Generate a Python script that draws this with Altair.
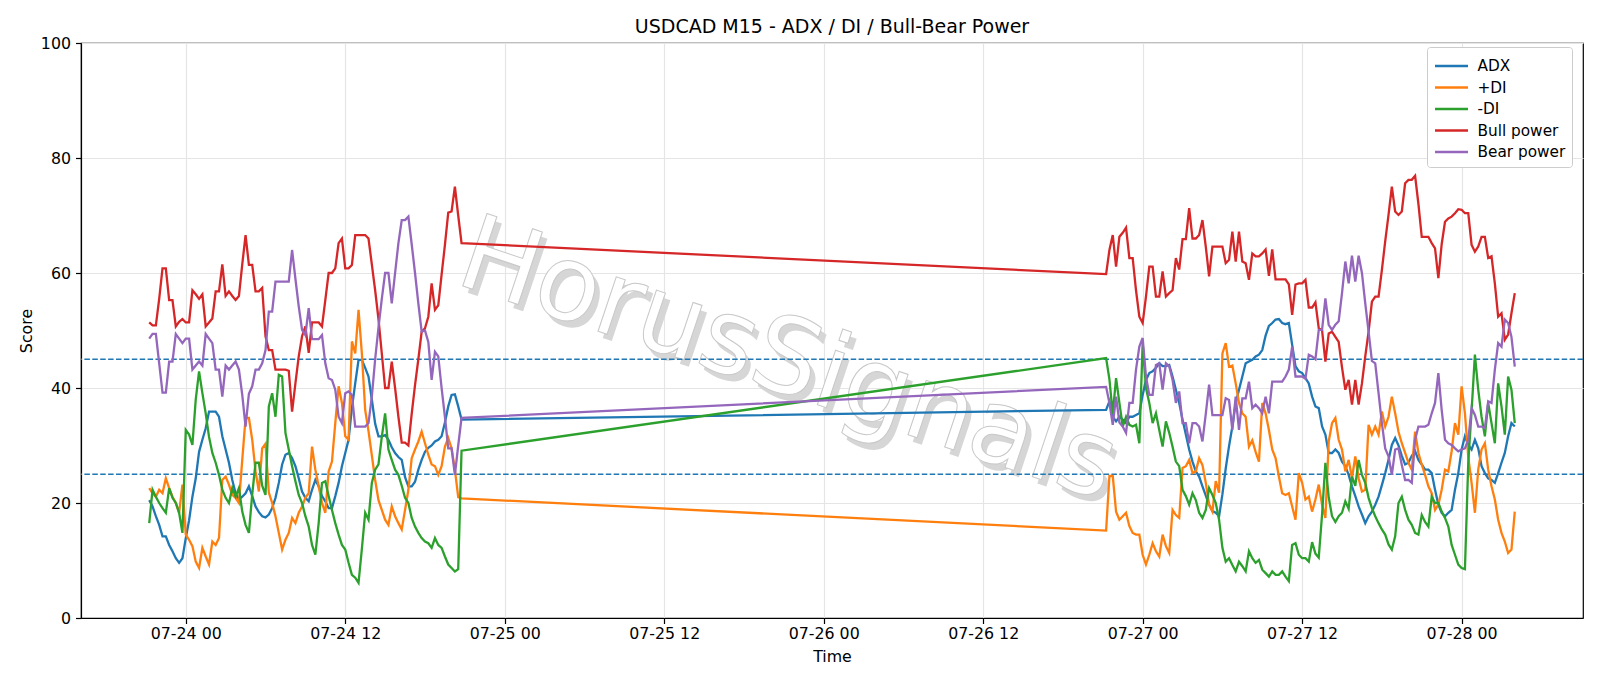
import altair as alt
import pandas as pd

series_names = ["ADX", "+DI", "-DI", "Bull power", "Bear power"]
series_colors = ["#1f77b4", "#ff7f0e", "#2ca02c", "#d62728", "#9467bd"]

seg1_start = "2025-07-23 21:15"
seg2_start = "2025-07-26 21:15"

adx_1 = [20.5, 19.4, 17.7, 16.2, 14.2, 14.2, 12.7, 11.6, 10.4, 9.6,
         10.4, 13.9, 17.0, 21.1, 24.3, 28.9, 31.0, 33.0, 35.9, 35.9,
         35.9, 35.0, 31.6, 29.3, 27.0, 24.0, 21.7, 20.6, 21.1, 21.7,
         22.9, 21.2, 19.4, 18.4, 17.7, 17.5, 18.0, 19.1, 20.9, 23.5,
         26.7, 28.4, 28.7, 27.8, 26.4, 24.3, 22.0, 20.9, 20.3, 22.3,
         24.0, 22.9, 21.2, 20.3, 19.1, 19.1, 21.2, 23.5, 26.4, 28.7,
         31.0, 36.5, 40.8, 44.9, 44.9, 43.5, 42.0, 38.0, 33.8, 31.6,
         31.6, 31.8, 31.0, 29.7, 28.7, 28.0, 27.5, 24.5, 22.9, 22.9,
         23.7, 25.8, 27.5, 28.9, 29.6, 30.0, 30.7, 31.0, 31.6, 34.0,
         36.8, 38.8, 38.9, 36.8, 34.5]
pdi_1 = [22.6, 21.7, 21.1, 22.3, 21.7, 24.3, 22.6, 21.1, 20.0, 18.3,
         23.2, 14.5, 13.6, 12.5, 9.8, 8.7, 12.2, 10.7, 9.3, 13.3,
         12.7, 13.9, 24.0, 24.6, 23.2, 21.4, 20.9, 20.0, 27.5, 34.8,
         34.8, 31.0, 25.5, 22.0, 29.5, 30.3, 21.8, 20.0, 17.7, 14.8,
         11.9, 13.6, 14.8, 17.4, 16.5, 18.3, 19.4, 20.9, 21.7, 29.8,
         25.8, 22.9, 20.0, 18.3, 25.5, 27.2, 33.9, 40.3, 37.4, 31.6,
         31.0, 48.1, 46.0, 53.6, 46.0, 36.2, 32.5, 28.3, 24.0, 20.5,
         18.8, 17.1, 16.2, 19.4, 17.7, 16.5, 15.4, 18.8, 22.3, 27.8,
         29.3, 30.7, 32.4, 30.4, 28.4, 26.7, 26.4, 24.9, 26.4, 29.8,
         31.3, 29.5, 25.8, 21.0, 20.8]
mdi_1 = [16.5, 22.3, 21.1, 20.0, 19.1, 18.3, 22.6, 20.9, 20.0, 18.3,
         14.8, 32.7, 31.9, 30.1, 38.0, 42.9, 39.1, 35.6, 31.5, 28.7,
         27.0, 24.9, 22.3, 20.9, 20.0, 22.6, 21.1, 22.6, 18.5, 16.2,
         14.8, 21.5, 27.0, 27.0, 23.0, 21.4, 36.8, 39.1, 35.0, 42.3,
         42.0, 32.2, 29.3, 26.4, 23.8, 21.4, 20.0, 17.7, 15.9, 12.7,
         11.0, 16.5, 23.5, 23.8, 21.2, 18.8, 16.5, 14.5, 12.7, 11.9,
         9.6, 7.5, 7.0, 6.1, 12.0, 18.3, 17.1, 23.5, 25.8, 26.7,
         31.5, 35.6, 29.3, 27.5, 25.8, 24.9, 23.0, 20.9, 20.0, 17.4,
         15.9, 14.8, 13.9, 13.3, 13.0, 12.2, 13.9, 12.7, 12.2, 10.7,
         9.3, 8.7, 8.1, 8.5, 29.1]
bull_1 = [51.4, 50.9, 50.9, 55.5, 60.8, 60.8, 55.3, 55.3, 50.7, 51.5,
          52.0, 51.4, 51.4, 57.0, 56.3, 55.5, 56.3, 50.7, 51.4, 52.1,
          56.8, 56.8, 61.5, 56.0, 56.8, 56.0, 55.3, 56.0, 61.5, 66.6,
          61.4, 61.4, 56.8, 56.8, 57.4, 49.0, 46.6, 46.6, 43.2, 43.2,
          43.2, 43.2, 43.0, 35.9, 40.8, 45.5, 49.0, 50.7, 46.1, 51.4,
          51.4, 51.4, 50.7, 55.3, 60.0, 60.0, 60.8, 65.2, 66.0, 60.8,
          60.8, 61.4, 66.6, 66.6, 66.6, 66.6, 66.0, 61.5, 57.0, 52.0,
          46.0, 40.0, 40.0, 44.6, 40.0, 35.0, 30.5, 30.5, 30.0, 35.5,
          40.5, 45.0, 49.8, 50.4, 52.4, 58.2, 53.6, 54.4, 59.7, 64.9,
          70.5, 70.7, 75.0, 70.0, 65.2]
bear_1 = [48.6, 49.4, 49.4, 44.3, 39.2, 39.2, 44.6, 44.6, 49.4, 48.6,
          47.8, 48.6, 48.6, 43.2, 43.9, 44.6, 43.9, 49.4, 48.6, 47.8,
          43.2, 43.2, 38.5, 43.9, 43.2, 43.9, 44.6, 43.2, 38.8, 33.3,
          39.0, 40.3, 43.2, 43.2, 44.3, 46.6, 53.3, 53.3, 58.5, 58.5,
          58.5, 58.5, 58.5, 64.0, 59.0, 54.2, 50.1, 49.2, 53.9, 48.5,
          48.5, 48.5, 49.2, 44.3, 41.7, 41.4, 39.7, 35.0, 33.9, 39.1,
          39.4, 38.8, 33.3, 33.3, 33.3, 33.3, 33.9, 38.5, 45.0, 50.5,
          55.5, 60.0, 60.0, 54.7, 60.0, 65.2, 69.2, 69.2, 69.8, 65.0,
          60.0, 54.7, 49.8, 50.0, 48.0, 41.4, 46.3, 45.5, 40.0, 35.0,
          29.5, 29.5, 24.9, 30.0, 34.8]

adx_2 = [36.2, 37.7, 35.0, 34.2, 35.0, 34.5, 33.9, 35.0, 35.0, 35.3,
         35.6, 38.8, 41.4, 42.6, 42.9, 43.5, 44.3, 43.8, 43.8, 44.0,
         42.0, 39.7, 37.4, 34.5, 31.9, 29.3, 27.2, 25.5, 24.6, 22.9,
         21.3, 19.7, 18.6, 18.3, 17.7, 21.5, 26.0, 29.9, 33.3, 37.4,
         39.7, 42.0, 44.3, 44.6, 44.9, 45.5, 45.8, 46.6, 49.1, 50.8,
         51.3, 51.9, 52.0, 51.3, 51.1, 51.3, 47.5, 43.8, 42.9, 42.6,
         41.7, 40.8, 38.5, 36.8, 36.5, 33.3, 31.9, 28.7, 28.7, 29.3,
         28.7, 27.2, 26.4, 24.9, 22.9, 21.2, 19.4, 18.0, 16.5, 17.7,
         18.5, 19.7, 21.1, 23.1, 25.2, 27.5, 30.1, 31.3, 30.0, 28.2,
         26.7, 27.0, 28.2, 29.0, 27.5, 26.7, 25.8, 25.8, 25.2, 22.3,
         19.7, 18.3, 17.7, 18.3, 18.8, 22.3, 25.2, 29.3, 31.6, 30.1,
         29.3, 31.0, 29.5, 26.4, 25.2, 24.3, 24.0, 23.5, 25.2, 27.0,
         28.7, 31.6, 33.9, 33.3]
pdi_2 = [15.2, 24.7, 24.7, 18.5, 17.1, 17.7, 18.3, 16.0, 14.8, 14.5,
         14.5, 11.0, 9.3, 11.0, 13.0, 11.6, 10.7, 14.5, 12.5, 11.3,
         18.8, 17.9, 17.4, 26.1, 26.4, 27.5, 25.2, 25.5, 27.8, 26.6,
         23.5, 19.7, 18.5, 23.8, 21.8, 46.0, 47.8, 43.7, 43.9, 40.8,
         37.4, 35.6, 35.0, 29.8, 30.9, 28.9, 27.2, 37.4, 35.6, 32.7,
         29.3, 27.8, 24.6, 21.7, 21.4, 21.7, 19.4, 17.1, 25.2, 23.5,
         20.6, 21.1, 18.5, 20.6, 23.2, 19.7, 17.4, 30.7, 33.9, 34.8,
         31.0, 29.3, 25.5, 27.5, 24.3, 28.1, 24.3, 22.0, 22.3, 33.6,
         31.9, 33.3, 31.9, 35.9, 33.3, 35.0, 38.5, 35.6, 32.4, 30.4,
         28.7, 27.0, 25.8, 32.4, 28.7, 26.7, 24.9, 22.9, 21.7, 18.8,
         19.7, 22.3, 25.8, 25.5, 29.0, 33.9, 31.9, 40.3, 35.6, 28.0,
         23.5, 18.3, 25.8, 29.3, 30.4, 25.8, 22.9, 20.6, 17.1, 14.8,
         13.3, 11.3, 11.9, 18.5]
mdi_2 = [45.2, 41.5, 35.5, 41.7, 37.4, 33.3, 35.0, 33.6, 33.3, 33.6,
         30.4, 47.8, 40.0, 37.4, 33.9, 35.6, 32.7, 29.8, 34.2, 32.2,
         29.8, 27.2, 26.4, 22.3, 21.2, 19.7, 21.7, 20.5, 18.3, 17.4,
         18.8, 22.6, 21.4, 20.0, 17.1, 12.2, 9.8, 10.4, 9.2, 8.1,
         9.8, 9.0, 8.1, 11.6, 10.4, 9.6, 10.1, 8.4, 7.8, 7.2,
         8.1, 7.5, 7.5, 8.1, 7.2, 6.4, 12.7, 13.0, 11.0, 10.4,
         10.4, 9.8, 13.2, 11.2, 10.5, 18.0, 27.0, 21.0, 17.7, 16.7,
         17.7, 18.3, 20.3, 19.0, 24.6, 23.0, 27.5, 24.9, 23.5, 20.9,
         19.1, 17.7, 16.5, 15.4, 14.5, 12.8, 11.9, 14.2, 20.0, 21.1,
         18.8, 17.1, 16.2, 14.8, 14.5, 17.9, 16.7, 15.9, 21.1, 20.0,
         20.0, 18.5, 17.4, 15.9, 12.7, 11.0, 9.3, 8.7, 8.5, 27.0,
         36.0, 45.8, 39.7, 35.0, 31.6, 37.4, 33.9, 30.4, 40.8, 36.8,
         31.9, 42.0, 39.7, 33.9]
bull_2 = [59.8, 64.0, 66.6, 61.1, 66.3, 67.0, 67.9, 62.6, 62.6, 57.0,
          52.4, 51.3, 55.9, 61.1, 61.1, 55.9, 55.9, 60.3, 55.9, 56.5,
          57.0, 62.6, 60.6, 65.9, 65.9, 71.3, 66.0, 66.0, 66.6, 69.2,
          64.6, 59.4, 64.6, 64.6, 64.6, 64.6, 61.7, 62.3, 67.2, 62.0,
          67.2, 62.0, 61.7, 58.8, 63.4, 62.9, 62.9, 63.4, 64.1, 59.5,
          64.1, 58.9, 58.9, 58.9, 58.9, 58.0, 52.7, 58.0, 58.2, 58.2,
          58.8, 54.0, 54.0, 54.9, 50.4, 50.0, 44.6, 49.5, 49.8, 48.9,
          48.0, 43.6, 39.7, 41.4, 37.1, 41.4, 37.1, 40.8, 45.5, 49.8,
          55.0, 55.9, 55.9, 60.5, 65.5, 70.1, 75.0, 70.7, 70.1, 70.7,
          75.6, 76.2, 76.2, 76.9, 72.0, 66.3, 66.3, 66.3, 65.2, 64.3,
          59.1, 65.0, 68.9, 69.5, 69.8, 70.4, 71.1, 71.0, 70.4, 70.4,
          64.9, 63.7, 64.6, 66.3, 66.3, 62.6, 62.9, 58.2, 52.4, 53.0,
          48.4, 49.3, 53.0, 56.5]
bear_2 = [40.2, 37.4, 33.6, 38.5, 34.0, 33.3, 32.2, 37.4, 37.4, 43.2,
          47.2, 48.7, 42.0, 38.8, 38.8, 44.0, 44.3, 39.7, 44.3, 43.8,
          41.4, 37.4, 39.4, 33.9, 33.9, 30.4, 33.9, 33.9, 33.3, 30.7,
          35.5, 40.6, 35.3, 35.3, 35.3, 35.3, 38.2, 37.9, 32.7, 38.5,
          32.7, 38.2, 38.2, 41.1, 36.5, 37.1, 36.5, 35.6, 38.5, 35.6,
          41.1, 41.1, 41.1, 41.1, 42.0, 43.2, 47.2, 42.0, 42.0, 42.0,
          41.6, 45.8, 45.5, 45.0, 50.1, 50.1, 55.6, 51.0, 50.1, 51.0,
          51.6, 56.5, 62.0, 58.2, 63.0, 58.5, 63.0, 60.0, 54.7, 49.8,
          44.7, 44.3, 39.1, 33.9, 29.5, 28.1, 24.9, 29.3, 29.5, 26.6,
          24.0, 24.0, 23.5, 31.0, 33.3, 33.3, 33.3, 33.6, 35.6, 37.4,
          42.6, 36.2, 31.0, 30.4, 30.1, 29.5, 29.0, 29.3, 29.5, 31.0,
          36.5, 35.3, 33.3, 33.3, 33.0, 37.7, 37.4, 43.2, 47.8, 47.2,
          51.9, 51.3, 48.9, 43.7]

thresholds = [25, 45]
y_ticks = [0, 20, 40, 60, 80, 100]
x_tick_days = [(24, 0), (24, 12), (25, 0), (25, 12), (26, 0), (26, 12),
               (27, 0), (27, 12), (28, 0)]
watermark_text = ["HorusSignals"]

# ---- build long table ----
rows = []
segments = [
    (seg1_start, [adx_1, pdi_1, mdi_1, bull_1, bear_1]),
    (seg2_start, [adx_2, pdi_2, mdi_2, bull_2, bear_2]),
]
for name_idx, name in enumerate(series_names):
    for start, arrays in segments:
        vals = arrays[name_idx]
        times = pd.date_range(start, periods=len(vals), freq="15min")
        for t, v in zip(times, vals):
            rows.append({"t": t.strftime("%Y-%m-%dT%H:%M:%S"), "s": name,
                         "order": name_idx, "v": v})
df = pd.DataFrame(rows)

font = "DejaVu Sans"
W, H = 1502, 575
FS = 15.8

x_scale = alt.Scale(domain=[
    alt.DateTime(year=2025, month=7, date=23, hours=16, minutes=7),
    alt.DateTime(year=2025, month=7, date=28, hours=9, minutes=8),
])
x_axis = alt.Axis(
    values=[alt.DateTime(year=2025, month=7, date=d, hours=h) for d, h in x_tick_days],
    format="%m-%d %H", title="Time", labelPadding=3, titlePadding=8,
)
y_scale = alt.Scale(domain=[0, 100], nice=False)
y_axis = alt.Axis(values=y_ticks, title="Score", labelPadding=5, titlePadding=6)

wm_df = pd.DataFrame({"w": watermark_text})
wm_shadow = alt.Chart(wm_df).mark_text(
    font=font, fontSize=105, angle=18.5, fill="#d6d6d6", dx=3, dy=3,
    align="center", baseline="middle",
).encode(text="w:N", x=alt.value(710), y=alt.value(321))
wm_main = alt.Chart(wm_df).mark_text(
    font=font, fontSize=105, angle=18.5, fill="#ffffff", stroke="#c8c8c8",
    strokeWidth=1, align="center", baseline="middle",
).encode(text="w:N", x=alt.value(707), y=alt.value(318))

lines = alt.Chart(df).mark_line(strokeWidth=2.3).encode(
    x=alt.X("t:T", scale=x_scale, axis=x_axis),
    y=alt.Y("v:Q", scale=y_scale, axis=y_axis),
    color=alt.Color(
        "s:N",
        scale=alt.Scale(domain=series_names, range=series_colors),
        sort=series_names,
        legend=alt.Legend(
            title=None, orient="none", legendX=1346, legendY=4,
            symbolType="M-1,0L2,0", symbolSize=484, symbolStrokeWidth=2.3,
            labelFontSize=15.3, labelFont=font, labelColor="black",
            padding=6.5, rowPadding=0.5, labelOffset=19,
            strokeColor="#cccccc", fillColor="white", cornerRadius=3,
        ),
    ),
    order="order:Q",
)

rules = alt.Chart(pd.DataFrame({"v": thresholds})).mark_rule(
    color="#1f77b4", strokeDash=[5.5, 2.4], strokeWidth=1.5
).encode(y=alt.Y("v:Q", scale=y_scale, axis=y_axis))

chart = alt.layer(wm_shadow, wm_main, rules, lines).properties(
    width=W, height=H,
    title=alt.TitleParams(
        "USDCAD M15 - ADX / DI / Bull-Bear Power", fontSize=19,
        fontWeight="normal", font=font, color="black", anchor="middle", offset=-2,
    ),
    autosize=alt.AutoSizeParams(type="none"),
    padding={"left": 81, "top": 43, "right": 17, "bottom": 68},
).configure_view(
    stroke="black", strokeWidth=1.2
).configure_axis(
    grid=True, gridColor="#e5e5e5", gridWidth=1.2,
    domainColor="black", domainWidth=1.2, tickColor="black", tickWidth=1.2, tickSize=5.5,
    labelFont=font, labelFontSize=FS, labelColor="black",
    titleFont=font, titleFontSize=FS, titleFontWeight="normal", titleColor="black",
)

chart.save("out.html", embed_options={"renderer": "svg", "actions": False})
